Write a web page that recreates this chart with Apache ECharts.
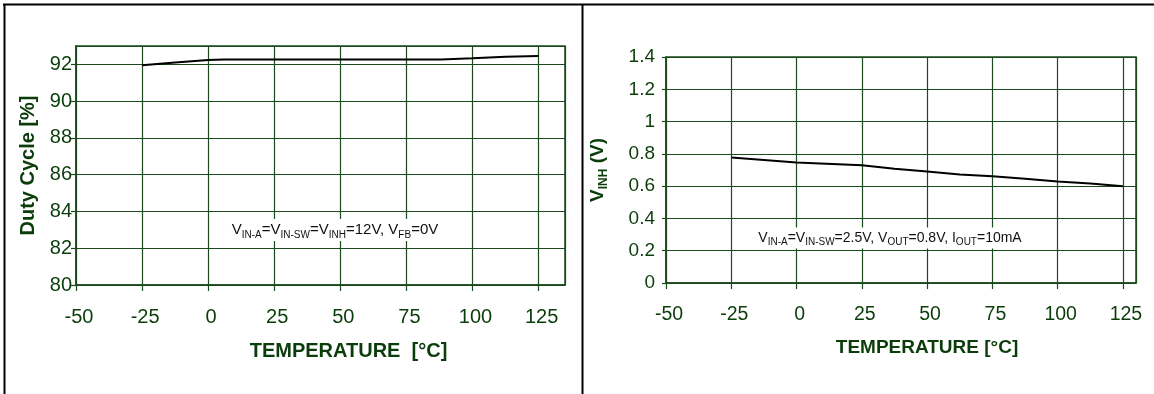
<!DOCTYPE html>
<html>
<head>
<meta charset="utf-8">
<script src="https://cdn.jsdelivr.net/npm/echarts@6/dist/echarts.min.js"></script>
<style>
  html, body { margin: 0; padding: 0; background: #fff; }
  #chart { width: 1154px; height: 394px; }
</style>
</head>
<body>
<div id="chart"></div>
<script>
// left panel: duty cycle vs temperature
const tempDuty = [-25, -12.5, 0, 6, 25, 50, 75, 88, 100, 112.5, 125];
const duty = [91.95, 92.1, 92.24, 92.27, 92.27, 92.27, 92.27, 92.27, 92.34, 92.42, 92.45];

// right panel: inhibit threshold vs temperature
const tempVinh = [-25, 0, 25, 37.5, 50, 62.5, 75, 87.5, 100, 112.5, 125];
const vinh = [0.778, 0.747, 0.729, 0.708, 0.69, 0.672, 0.661, 0.646, 0.629, 0.616, 0.6];

const FONT = "Liberation Sans, Arial, sans-serif";
const TXT = "#0b3d0b";
const GRIDC = "#1d4a1d";

const container = document.getElementById("chart");
const chart = echarts.init(container, null, { renderer: "canvas" });

function pairs(xs, ys) {
    return xs.map(function (x, i) { return [x, ys[i]]; });
}

function xAxisOf(idx, max, fs, nameFs, pad, gap) {
    return {
        type: "value",
        gridIndex: idx,
        min: -50,
        max: max,
        interval: 25,
        name: "TEMPERATURE" + (idx === 0 ? "  " : " ") + "[°C]",
        nameLocation: "middle",
        nameGap: gap,
        nameTextStyle: { color: TXT, fontFamily: FONT, fontWeight: "bold", fontSize: nameFs, padding: [0, 0, 0, pad] },
        axisLine: { show: true, onZero: false, lineStyle: { color: GRIDC, width: 1.5 } },
        axisTick: { show: true, inside: false, length: 6, lineStyle: { color: GRIDC, width: 1.2 } },
        axisLabel: {
            color: TXT, fontFamily: FONT, fontSize: fs, margin: 22, padding: [0, 0, 0, 6],
            showMaxLabel: false,
            formatter: function (v) { return v % 25 === 0 ? String(v) : ""; }
        },
        splitLine: { show: true, lineStyle: { color: GRIDC, width: 1.2 } }
    };
}

const option = {
    animation: false,
    backgroundColor: "#fff",
    grid: [
        { left: 76, top: 46, right: 589, bottom: 109, show: true, borderColor: GRIDC, borderWidth: 1.5, backgroundColor: "transparent" },
        { left: 666, top: 57, right: 18, bottom: 111, show: true, borderColor: GRIDC, borderWidth: 1.5, backgroundColor: "transparent" }
    ],
    xAxis: [
        xAxisOf(0, 135, 20, 20, 56, 56),
        xAxisOf(1, 130, 19.5, 19, 52, 55)
    ],
    yAxis: [
        {
            type: "value",
            gridIndex: 0,
            min: 80,
            max: 93,
            interval: 2,
            name: "Duty Cycle [%]",
            nameLocation: "middle",
            nameGap: 38,
            nameTextStyle: { color: TXT, fontFamily: FONT, fontWeight: "bold", fontSize: 20 },
            axisLine: { show: true, onZero: false, lineStyle: { color: GRIDC, width: 1.5 } },
            axisTick: { show: true, length: 5, lineStyle: { color: GRIDC, width: 1.2 } },
            axisLabel: { color: TXT, fontFamily: FONT, fontSize: 20, margin: 4, showMaxLabel: false },
            splitLine: { show: true, lineStyle: { color: GRIDC, width: 1.2 } }
        },
        {
            type: "value",
            gridIndex: 1,
            min: 0,
            max: 1.4,
            interval: 0.2,
            name: "{v|V}{s|INH}{v| (V)}",
            nameLocation: "middle",
            nameGap: 56,
            nameTextStyle: {
                color: TXT, fontFamily: FONT, fontWeight: "bold",
                rich: {
                    v: { color: TXT, fontFamily: FONT, fontWeight: "bold", fontSize: 19, lineHeight: 24, verticalAlign: "middle" },
                    s: { color: TXT, fontFamily: FONT, fontWeight: "bold", fontSize: 12, lineHeight: 24, verticalAlign: "bottom" }
                }
            },
            axisLine: { show: true, onZero: false, lineStyle: { color: GRIDC, width: 1.5 } },
            axisTick: { show: true, length: 4, lineStyle: { color: GRIDC, width: 1.2 } },
            axisLabel: { color: TXT, fontFamily: FONT, fontSize: 19, margin: 11 },
            splitLine: { show: true, lineStyle: { color: GRIDC, width: 1.2 } }
        }
    ],
    series: [
        {
            type: "line",
            xAxisIndex: 0,
            yAxisIndex: 0,
            data: pairs(tempDuty, duty),
            showSymbol: false,
            lineStyle: { color: "#000", width: 2 },
            z: 5
        },
        {
            type: "line",
            xAxisIndex: 1,
            yAxisIndex: 1,
            data: pairs(tempVinh, vinh),
            showSymbol: false,
            lineStyle: { color: "#000", width: 2 },
            z: 5
        }
    ],
    graphic: [
        // panel frame
        { type: "line", shape: { x1: 3, y1: 4.5, x2: 1154, y2: 4.5 }, style: { stroke: "#000", lineWidth: 2 } },
        { type: "line", shape: { x1: 4.5, y1: 4, x2: 4.5, y2: 394 }, style: { stroke: "#000", lineWidth: 2 } },
        { type: "line", shape: { x1: 582.5, y1: 4, x2: 582.5, y2: 394 }, style: { stroke: "#000", lineWidth: 2 } },
        // test conditions
        {
            type: "text",
            x: 335, y: 230, z: 10,
            style: {
                text: "{m|V}{s|IN-A}{m|=V}{s|IN-SW}{m|=V}{s|INH}{m|=12V, V}{s|FB}{m|=0V}",
                align: "center",
                verticalAlign: "middle",
                backgroundColor: "#fff",
                padding: [1, 2, 1, 2],
                rich: {
                    m: { fontFamily: FONT, fontSize: 15, fill: "#111", lineHeight: 20, verticalAlign: "middle" },
                    s: { fontFamily: FONT, fontSize: 10, fill: "#111", lineHeight: 20, verticalAlign: "bottom" }
                }
            }
        },
        {
            type: "text",
            x: 890, y: 238, z: 10,
            style: {
                text: "{m|V}{s|IN-A}{m|=V}{s|IN-SW}{m|=2.5V, V}{s|OUT}{m|=0.8V, I}{s|OUT}{m|=10mA}",
                align: "center",
                verticalAlign: "middle",
                backgroundColor: "#fff",
                padding: [1, 2, 1, 2],
                rich: {
                    m: { fontFamily: FONT, fontSize: 14, fill: "#111", lineHeight: 19, verticalAlign: "middle" },
                    s: { fontFamily: FONT, fontSize: 10, fill: "#111", lineHeight: 19, verticalAlign: "bottom" }
                }
            }
        }
    ]
};

chart.setOption(option);
</script>
</body>
</html>
